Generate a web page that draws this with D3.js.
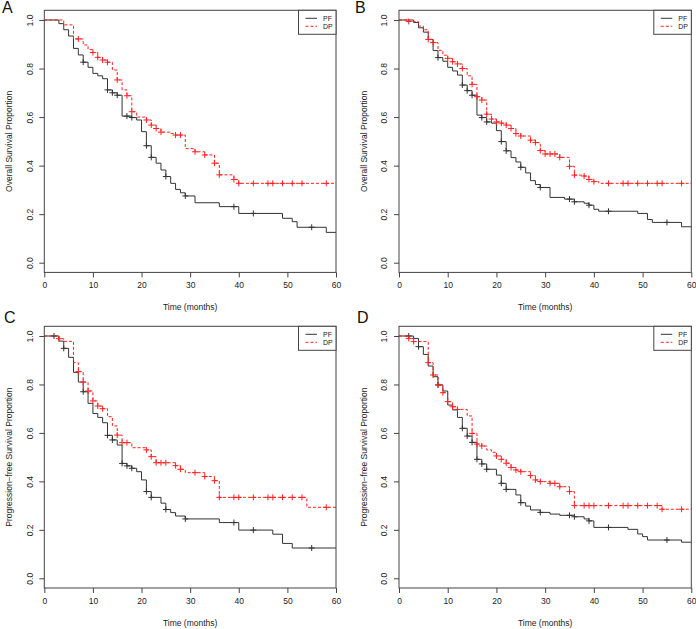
<!DOCTYPE html>
<html><head><meta charset="utf-8">
<script src="https://cdn.jsdelivr.net/npm/d3@7"></script>
<style>
body{margin:0;background:#fff}
svg{display:block}
text{font-family:"Liberation Sans",Arial,Helvetica,sans-serif}
</style>
</head><body>
<svg id="chart" width="696" height="629"></svg>
<script>
// ---------- DATA ----------
const xTicks = [0, 10, 20, 30, 40, 50, 60];
const yTicks = [0, 0.2, 0.4, 0.6, 0.8, 1.0];
const panelLabels = ["A", "B", "C", "D"];
const yTitles = ["Overall Survival Proportion", "Overall Survival Proportion",
  "Progression\u2212free Survival Proportion", "Progression\u2212free Survival Proportion"];
const xTitle = "Time (months)";
const seriesNames = ["PF", "DP"];

// Panel A – overall survival
const aPfT = [3,4,5,6,7,8,9,10,11,12,13,14,15,16,18,19,20,21,22,23,24,25,26,27,28,29,31,36,40,49,51,52,58];
const aPfS = [0.985,0.96,0.934,0.883,0.856,0.826,0.805,0.78,0.77,0.758,0.712,0.70,0.69,0.604,0.598,0.588,0.54,0.482,0.434,0.41,0.382,0.355,0.327,0.302,0.288,0.275,0.247,0.231,0.203,0.183,0.169,0.146,0.125];
const aPfC = [8,13,14,15,17,18,21,22,25,29,39,43,55];
const aDpT = [4,6,8,9,10,11,12,13,14,15,16,17,18,19,21,22,23,24,26,27,29,31,33,35,36,39,40];
const aDpS = [0.98,0.922,0.897,0.878,0.866,0.846,0.835,0.826,0.794,0.753,0.712,0.688,0.622,0.60,0.588,0.567,0.553,0.538,0.532,0.526,0.47,0.457,0.444,0.41,0.362,0.343,0.327];
const aDpC = [7,10,11,12,13,15,17,18,21,22,23,24,27,28,31,33,35,36,39,40,43,46,47,49,51,53,58];

// Panel B – overall survival
const bPfT = [3,4,5,6,7,8,9,10,11,12,13,14,15,16,17,18,19,20,21,22,23,24,25,26,27,28,29,31,34,36,38,39,40,41,49,51,52,58];
const bPfS = [0.99,0.968,0.95,0.92,0.874,0.845,0.83,0.805,0.79,0.773,0.732,0.709,0.69,0.608,0.598,0.58,0.575,0.544,0.499,0.461,0.433,0.415,0.393,0.37,0.338,0.322,0.31,0.269,0.262,0.251,0.245,0.237,0.22,0.212,0.203,0.178,0.166,0.148];
const bPfC = [8,13,14,15,17,18,21,22,25,29,35,36,39,43,55];
const bDpT = [2,4,5,6,7,8,9,10,11,12,13,14,15,16,17,18,19,20,21,22,23,24,25,27,28,29,30,33,35,36,38,39,40,41];
const bDpS = [0.994,0.975,0.96,0.92,0.907,0.875,0.855,0.842,0.828,0.819,0.80,0.77,0.735,0.684,0.67,0.612,0.592,0.58,0.575,0.567,0.553,0.532,0.522,0.505,0.495,0.462,0.448,0.434,0.397,0.361,0.357,0.343,0.334,0.327];
const bDpC = [2,6,7,10,11,12,13,15,16,17,18,19,20,21,22,23,24,25,27,28,29,30,31,32,33,35,36,38,39,40,43,46,47,49,51,53,54,58];

// Panel C – progression-free survival
const cPfT = [3,4,5,6,7,8,9,10,11,12,13,14,15,16,17,18,19,20,21,22,24,25,26,27,29,36,40,47,49,51];
const cPfS = [0.979,0.949,0.912,0.85,0.81,0.77,0.722,0.68,0.664,0.642,0.59,0.571,0.55,0.474,0.464,0.454,0.44,0.406,0.358,0.334,0.31,0.284,0.271,0.257,0.245,0.23,0.199,0.182,0.144,0.125];
const cPfC = [2,4,8,13,14,16,17,18,21,22,25,29,39,43,55];
const cDpT = [3,4,6,7,8,9,10,11,12,13,14,15,16,18,21,22,23,27,28,29,33,35,36,54];
const cDpS = [0.989,0.978,0.89,0.853,0.81,0.773,0.732,0.711,0.70,0.667,0.629,0.591,0.56,0.539,0.53,0.502,0.477,0.465,0.45,0.436,0.42,0.403,0.334,0.293];
const cDpC = [3,7,8,9,10,11,12,15,16,17,21,22,23,24,25,27,28,31,33,35,36,39,40,43,46,47,49,51,53,58];

// Panel D – progression-free survival
const dPfT = [3,4,5,6,7,8,9,10,11,12,13,14,15,16,17,18,20,21,22,24,25,26,27,29,31,33,36,38,39,40,47,49,50,51,58];
const dPfS = [0.99,0.956,0.924,0.876,0.832,0.798,0.773,0.715,0.695,0.664,0.619,0.587,0.561,0.491,0.472,0.45,0.426,0.392,0.367,0.344,0.312,0.298,0.282,0.272,0.265,0.26,0.254,0.245,0.237,0.21,0.202,0.183,0.172,0.158,0.149];
const dPfC = [2,4,8,13,14,15,16,17,18,21,22,25,29,35,36,39,43,55];
const dDpT = [2,3,6,7,8,9,10,11,12,14,15,16,17,18,19,20,21,22,23,24,25,27,28,29,31,33,35,36,54];
const dDpS = [0.99,0.977,0.89,0.839,0.798,0.766,0.729,0.708,0.697,0.67,0.598,0.554,0.546,0.53,0.52,0.505,0.491,0.475,0.457,0.447,0.44,0.424,0.406,0.399,0.392,0.378,0.358,0.30,0.285];
const dDpC = [2,3,6,7,8,9,10,11,12,15,16,17,20,21,22,23,24,25,27,28,29,31,32,33,35,36,38,39,40,43,46,47,49,51,53,54,58];

const panelData = [
  [[aPfT, aPfS, aPfC], [aDpT, aDpS, aDpC]],
  [[bPfT, bPfS, bPfC], [bDpT, bDpS, bDpC]],
  [[cPfT, cPfS, cPfC], [cDpT, cDpS, cDpC]],
  [[dPfT, dPfS, dPfC], [dDpT, dDpS, dDpC]]
];

// ---------- LAYOUT / STYLE ----------
const layout = [
  {x0: 44.3, x1: 336,   y1: 20,  y0: 262.7, lx: 2,   ly: 13},
  {x0: 399,  x1: 691.3, y1: 20,  y0: 262.7, lx: 355, ly: 13},
  {x0: 44.3, x1: 336,   y1: 336, y0: 578.3, lx: 4,   ly: 323},
  {x0: 399,  x1: 691.3, y1: 336, y0: 578.3, lx: 357, ly: 323}
];
const styles = [
  {color: "#333", dash: null, width: 1},
  {color: "#ff2020", dash: "3,2", width: 1}
];
const axisColor = "#444";
const fs = 8.5;

const svg = d3.select("#chart");

function survAt(T, S, t) {
  let s = 1;
  for (let i = 0; i < T.length; i++) { if (T[i] <= t) s = S[i]; else break; }
  return s;
}

layout.forEach((L, pi) => {
  const x = d3.scaleLinear().domain([0, 60]).range([L.x0, L.x1]);
  const y = d3.scaleLinear().domain([0, 1]).range([L.y0, L.y1]);
  const pad = 0.04 * (L.y0 - L.y1);
  const top = L.y1 - pad, bot = L.y0 + pad;
  const g = svg.append("g");

  // curves
  panelData[pi].forEach(([T, S, C], si) => {
    const st = styles[si];
    const pts = [[0, 1]].concat(T.map((t, i) => [t, S[i]]));
    pts.push([60, S[S.length - 1]]);
    const line = d3.line().x(d => x(d[0])).y(d => y(d[1])).curve(d3.curveStepAfter);
    g.append("path").attr("d", line(pts)).attr("fill", "none")
      .attr("stroke", st.color).attr("stroke-width", st.width)
      .attr("stroke-dasharray", st.dash);
    g.selectAll(null).data(C).enter().append("path")
      .attr("transform", t => `translate(${x(t)},${y(survAt(T, S, t))})`)
      .attr("d", "M-3,0H3M0,-3V3")
      .attr("stroke", st.color).attr("stroke-width", 1).attr("fill", "none");
  });

  // box
  g.append("rect").attr("x", L.x0).attr("y", top).attr("width", L.x1 - L.x0).attr("height", bot - top)
    .attr("fill", "none").attr("stroke", axisColor).attr("stroke-width", 1);

  // x axis
  const xa = g.append("g").attr("transform", `translate(0,${bot})`)
    .call(d3.axisBottom(x).tickValues(xTicks).tickSize(5).tickFormat(d3.format("d")));
  xa.select(".domain").remove();
  xa.selectAll("line").attr("stroke", axisColor);
  xa.selectAll("text").attr("y", 10).attr("font-size", fs).attr("fill", "#222")
    .style("font-family", '"Liberation Sans",Arial,sans-serif');

  // y axis
  const ya = g.append("g").attr("transform", `translate(${L.x0},0)`)
    .call(d3.axisLeft(y).tickValues(yTicks).tickSize(5).tickFormat(d3.format(".1f")));
  ya.select(".domain").remove();
  ya.selectAll("line").attr("stroke", axisColor);
  ya.selectAll("text").attr("x", null).attr("dy", "0.35em")
    .attr("transform", "translate(-14.5,0) rotate(-90)")
    .attr("text-anchor", "middle").attr("font-size", fs).attr("fill", "#222")
    .style("font-family", '"Liberation Sans",Arial,sans-serif');

  // titles
  g.append("text").attr("x", (L.x0 + L.x1) / 2).attr("y", bot + 35).attr("dy", "0.35em")
    .attr("text-anchor", "middle").attr("font-size", fs).attr("fill", "#222").text(xTitle);
  g.append("text").attr("transform", `translate(${L.x0 - 35},${(L.y0 + L.y1) / 2}) rotate(-90)`)
    .attr("dy", "0.35em").attr("text-anchor", "middle").attr("font-size", fs).attr("fill", "#222")
    .text(yTitles[pi]);

  // panel label
  g.append("text").attr("x", L.lx).attr("y", L.ly).attr("font-size", 16)
    .attr("fill", "#111").text(panelLabels[pi]);

  // legend
  const lw = 37.5, lh = 24, lx = L.x1 - lw;
  const lg = g.append("g").attr("transform", `translate(${lx},${top})`);
  lg.append("rect").attr("width", lw).attr("height", lh).attr("fill", "#fff")
    .attr("stroke", axisColor).attr("stroke-width", 1);
  seriesNames.forEach((nm, si) => {
    const yy = 8 + si * 8;
    lg.append("line").attr("x1", 7).attr("x2", 18.5).attr("y1", yy).attr("y2", yy)
      .attr("stroke", styles[si].color).attr("stroke-width", 1).attr("stroke-dasharray", styles[si].dash);
    lg.append("text").attr("x", 24.5).attr("y", yy).attr("dy", "0.35em").attr("font-size", 7)
      .attr("fill", "#222").text(nm);
  });
});
</script>
</body></html>
